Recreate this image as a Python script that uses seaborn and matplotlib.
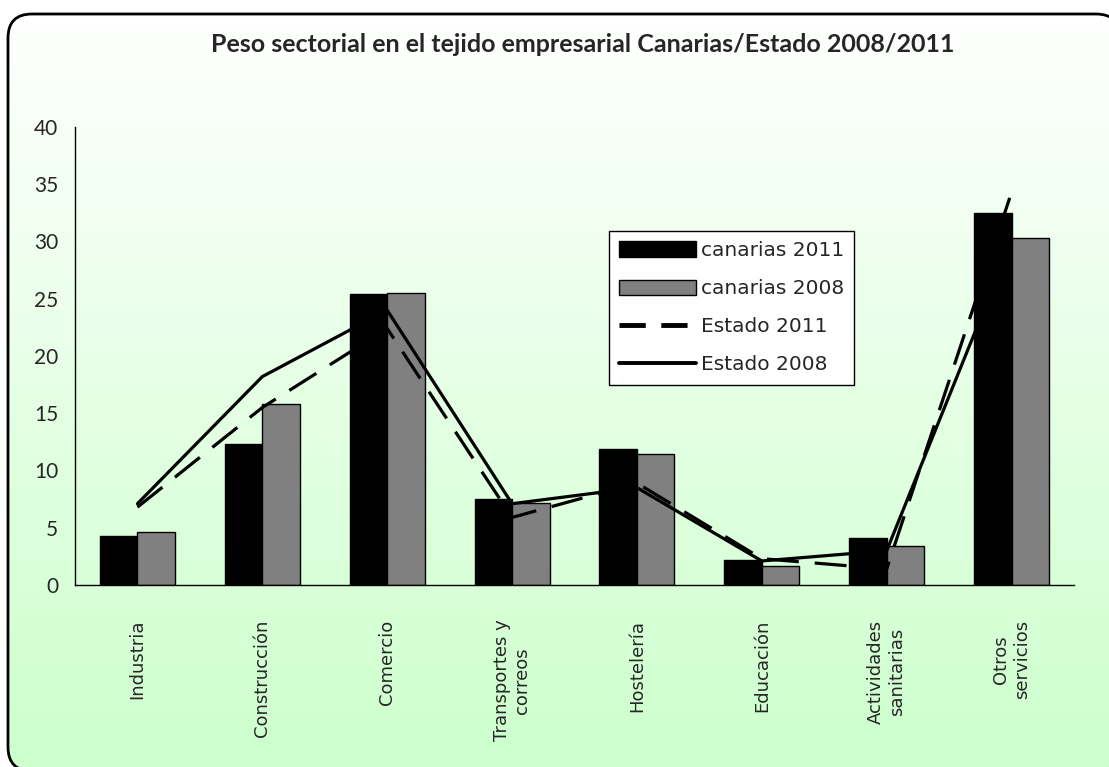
# Peso sectorial en el tejido empresarial: Canarias vs Estado, 2008/2011
import matplotlib.pyplot as plt
import numpy as np
import pandas as pd
import seaborn as sns
from matplotlib.lines import Line2D
from matplotlib.patches import FancyBboxPatch, Patch

sectores = ["Industria", "Construcción", "Comercio", "Transportes y\ncorreos",
            "Hostelería", "Educación", "Actividades\nsanitarias", "Otros\nservicios"]
canarias_2011 = [4.3, 12.3, 25.4, 7.5, 11.9, 2.2, 4.1, 32.5]
canarias_2008 = [4.6, 15.8, 25.5, 7.2, 11.4, 1.7, 3.4, 30.3]
estado_2011 = [6.8, 15.5, 22.4, 5.9, 8.9, 2.3, 1.4, 34.3]
estado_2008 = [7.1, 18.2, 24.0, 7.1, 8.5, 2.1, 3.0, 30.0]
series_barras = ["canarias 2011", "canarias 2008"]

sns.set_style("white")
plt.rcParams['font.family'] = ['Lato', 'DejaVu Sans']

df = pd.DataFrame({
    "sector": sectores * 2,
    "valor": canarias_2011 + canarias_2008,
    "serie": [series_barras[0]] * len(sectores) + [series_barras[1]] * len(sectores),
})
pos = np.arange(len(sectores))

W, H = 1109, 767
fig = plt.figure(figsize=(W / 100, H / 100), dpi=100)
fig.patch.set_facecolor("white")

# fondo con degradado blanco -> verde claro dentro de un marco redondeado (en píxeles)
grad = np.linspace(0, 1, 256)[:, None]
top = np.array([1.0, 1.0, 1.0])
bot = np.array([204, 255, 204]) / 255
img = top + (bot - top) * grad[..., None]
img = np.repeat(img, 2, axis=1)
x0, y0, x1, y1 = 8, H - 771, 1120, H - 14
# un relleno casi transparente evita que agg recorte el trazo contra el borde del lienzo
frame = FancyBboxPatch((x0, y0), x1 - x0, y1 - y0, boxstyle="round,pad=0,rounding_size=24",
                       facecolor=(1, 1, 1, 0.002), edgecolor="black", linewidth=2,
                       transform=None, zorder=2)
fig.patches.append(frame)
bg = fig.add_axes([x0 / W, y0 / H, (x1 - x0) / W, (y1 - y0) / H], zorder=-10)
bg.axis("off")
bg.imshow(img, aspect="auto", extent=(0, 1, 0, 1), origin="upper", clip_path=frame)

ax = fig.add_axes([75 / W, 1 - 585 / H, (1074 - 75) / W, (585 - 127) / H])
ax.set_facecolor("none")

sns.barplot(data=df, x="sector", y="valor", hue="serie", palette=["black", "#808080"],
            width=0.6, edgecolor="black", linewidth=1, ax=ax, legend=False, zorder=2)
sns.lineplot(x=pos, y=estado_2011, ax=ax, color="black", linewidth=2.3,
             dashes=[(10, 5)], style=[0] * len(pos), legend=False, zorder=3)
sns.lineplot(x=pos, y=estado_2008, ax=ax, color="black", linewidth=2.3,
             legend=False, zorder=3)

ax.set_xlim(-0.5, len(sectores) - 0.5)
ax.set_ylim(0, 40)
ax.set_yticks(range(0, 41, 5))
ax.set_xlabel("")
ax.set_ylabel("")
for s in ["top", "right"]:
    ax.spines[s].set_visible(False)
for s in ["left", "bottom"]:
    ax.spines[s].set_color("black")
    ax.spines[s].set_linewidth(1)

ax.set_xticks(pos)
ax.set_xticklabels(sectores, rotation=90, ha="center", va="top", multialignment="center",
                   family="DejaVu Sans", fontsize=13)
ax.set_xticks(np.arange(-0.5, len(sectores)), minor=True)
ax.tick_params(axis="x", which="major", length=0, pad=25)
ax.tick_params(axis="x", which="minor", length=6, width=1, color="black", direction="out")
ax.tick_params(axis="y", length=6, width=1, color="black", direction="out",
               labelsize=15, pad=6)

fig.text(583 / W, 1 - 45 / H, "Peso sectorial en el tejido empresarial Canarias/Estado 2008/2011",
         ha="center", va="center", fontsize=18, fontweight="bold")

handles = [
    Patch(facecolor="black", edgecolor="black", label="canarias 2011"),
    Patch(facecolor="#808080", edgecolor="black", label="canarias 2008"),
    Line2D([], [], color="black", linewidth=3.5, dashes=(5.4, 3.2), label="Estado 2011"),
    Line2D([], [], color="black", linewidth=2.8, label="Estado 2008"),
]
leg = ax.legend(handles=handles, loc="upper left", bbox_to_anchor=(609 / W, 1 - 231 / H),
                bbox_transform=fig.transFigure, borderaxespad=0, fancybox=False,
                framealpha=1, edgecolor="black", handlelength=3.8, handleheight=0.8,
                labelspacing=0.95, handletextpad=0.25, borderpad=0.5,
                prop={"family": "DejaVu Sans", "size": 14.5})
leg.get_frame().set_linewidth(1)

fig.savefig("out.png", dpi=100)
